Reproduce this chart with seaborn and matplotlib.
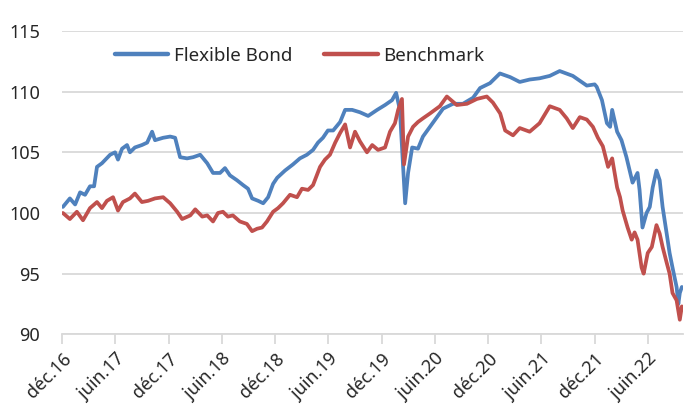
import matplotlib
matplotlib.use("Agg")
import matplotlib.pyplot as plt
import pandas as pd
import seaborn as sns

flex_dates = [
    "2016-12-03", "2016-12-27", "2017-01-14", "2017-01-31", "2017-02-17", "2017-03-06",
    "2017-03-20", "2017-03-30", "2017-04-16", "2017-05-14", "2017-05-31", "2017-06-10",
    "2017-06-24", "2017-07-11", "2017-07-21", "2017-08-07", "2017-08-31", "2017-09-18",
    "2017-10-05", "2017-10-15", "2017-11-12", "2017-12-06", "2017-12-23", "2018-01-09",
    "2018-02-02", "2018-02-23", "2018-03-19", "2018-04-12", "2018-05-02", "2018-05-26",
    "2018-06-12", "2018-06-29", "2018-07-23", "2018-08-13", "2018-08-30", "2018-09-13",
    "2018-10-04", "2018-10-21", "2018-11-07", "2018-11-24", "2018-12-08", "2019-01-04",
    "2019-01-31", "2019-02-24", "2019-03-20", "2019-04-10", "2019-04-27", "2019-05-14",
    "2019-05-31", "2019-06-18", "2019-07-12", "2019-07-29", "2019-08-22", "2019-09-18",
    "2019-10-16", "2019-11-16", "2019-12-13", "2020-01-06", "2020-01-20", "2020-02-02",
    "2020-02-20", "2020-03-01", "2020-03-15", "2020-04-04", "2020-04-21", "2020-05-15",
    "2020-06-08", "2020-06-29", "2020-08-02", "2020-09-05", "2020-10-10", "2020-11-03",
    "2020-12-07", "2021-01-10", "2021-02-14", "2021-03-19", "2021-04-22", "2021-05-26",
    "2021-06-30", "2021-08-03", "2021-09-17", "2021-11-04", "2021-12-01", "2021-12-08",
    "2021-12-26", "2022-01-12", "2022-01-23", "2022-01-30", "2022-02-16", "2022-03-03",
    "2022-03-20", "2022-03-31", "2022-04-10", "2022-04-27", "2022-05-04", "2022-05-14",
    "2022-05-28", "2022-06-08", "2022-06-18", "2022-07-01", "2022-07-12", "2022-07-22",
    "2022-08-05", "2022-08-15", "2022-08-25", "2022-09-08", "2022-09-14", "2022-09-19",
    "2022-09-26",
]
flex_values = [
    100.5, 101.2, 100.7, 101.7, 101.5, 102.2,
    102.2, 103.8, 104.1, 104.8, 105.0, 104.4,
    105.3, 105.6, 105.0, 105.4, 105.6, 105.8,
    106.7, 106.0, 106.2, 106.3, 106.2, 104.6,
    104.5, 104.6, 104.8, 104.1, 103.3, 103.3,
    103.7, 103.1, 102.7, 102.3, 102.0, 101.2,
    101.0, 100.8, 101.3, 102.4, 102.9, 103.5,
    104.0, 104.5, 104.8, 105.2, 105.8, 106.2,
    106.8, 106.8, 107.5, 108.5, 108.5, 108.3,
    108.0, 108.5, 108.9, 109.3, 109.9, 108.5,
    100.8, 103.3, 105.4, 105.3, 106.3, 107.1,
    107.9, 108.6, 109.0, 109.0, 109.5, 110.3,
    110.7, 111.5, 111.2, 110.8, 111.0, 111.1,
    111.3, 111.7, 111.3, 110.5, 110.6, 110.4,
    109.3, 107.4, 107.1, 108.5, 106.7, 106.0,
    104.6, 103.5, 102.5, 103.3, 101.9, 98.8,
    100.0, 100.5, 102.1, 103.5, 102.7, 100.5,
    98.3, 96.7, 95.5, 93.9, 92.5, 93.4,
    93.9,
]

bench_dates = [
    "2016-12-03", "2016-12-27", "2017-01-20", "2017-02-10", "2017-03-06", "2017-03-30",
    "2017-04-16", "2017-05-03", "2017-05-24", "2017-06-10", "2017-06-27", "2017-07-21",
    "2017-08-07", "2017-08-31", "2017-09-21", "2017-10-15", "2017-11-12", "2017-12-06",
    "2017-12-30", "2018-01-16", "2018-02-13", "2018-03-02", "2018-03-26", "2018-04-12",
    "2018-05-02", "2018-05-19", "2018-06-05", "2018-06-22", "2018-07-09", "2018-08-02",
    "2018-08-26", "2018-09-13", "2018-09-30", "2018-10-17", "2018-11-03", "2018-11-24",
    "2018-12-11", "2018-12-28", "2019-01-21", "2019-02-14", "2019-03-03", "2019-03-24",
    "2019-04-10", "2019-05-04", "2019-05-21", "2019-06-07", "2019-06-25", "2019-07-12",
    "2019-07-29", "2019-08-15", "2019-09-01", "2019-09-18", "2019-10-12", "2019-10-30",
    "2019-11-19", "2019-12-13", "2019-12-30", "2020-01-16", "2020-01-27", "2020-02-09",
    "2020-02-16", "2020-03-01", "2020-03-18", "2020-04-04", "2020-04-21", "2020-05-15",
    "2020-06-18", "2020-07-12", "2020-08-15", "2020-09-19", "2020-10-23", "2020-11-26",
    "2020-12-17", "2021-01-11", "2021-01-28", "2021-02-24", "2021-03-19", "2021-04-22",
    "2021-05-26", "2021-06-30", "2021-08-03", "2021-08-27", "2021-09-17", "2021-10-11",
    "2021-11-04", "2021-11-25", "2021-12-12", "2021-12-29", "2022-01-16", "2022-01-30",
    "2022-02-16", "2022-02-26", "2022-03-07", "2022-03-24", "2022-04-07", "2022-04-17",
    "2022-04-27", "2022-05-11", "2022-05-18", "2022-06-01", "2022-06-15", "2022-07-01",
    "2022-07-12", "2022-07-22", "2022-08-05", "2022-08-15", "2022-08-25", "2022-09-08",
    "2022-09-19", "2022-09-26",
]
bench_values = [
    100.0, 99.5, 100.1, 99.4, 100.4, 100.9,
    100.4, 101.0, 101.3, 100.2, 100.9, 101.2,
    101.6, 100.9, 101.0, 101.2, 101.3, 100.8,
    100.1, 99.5, 99.8, 100.3, 99.7, 99.8,
    99.3, 100.0, 100.1, 99.7, 99.8, 99.3,
    99.1, 98.5, 98.7, 98.8, 99.3, 100.1,
    100.4, 100.8, 101.5, 101.3, 102.0, 101.9,
    102.3, 103.8, 104.4, 104.8, 105.8, 106.6,
    107.3, 105.4, 106.7, 105.9, 105.0, 105.6,
    105.2, 105.4, 106.7, 107.4, 108.5, 109.4,
    104.0, 106.3, 107.1, 107.5, 107.8, 108.2,
    108.8, 109.6, 108.9, 109.0, 109.4, 109.6,
    109.1, 108.2, 106.8, 106.4, 107.0, 106.7,
    107.4, 108.8, 108.5, 107.8, 107.0, 107.9,
    107.7, 107.1, 106.2, 105.5, 103.8, 104.5,
    102.1, 101.3, 100.2, 98.8, 97.8, 98.4,
    97.8, 95.5, 95.0, 96.7, 97.2, 99.0,
    98.3, 97.2, 95.9, 95.0, 93.4, 92.8,
    91.2, 92.3,
]

series_names = ["Flexible Bond", "Benchmark"]
series_colors = ["#4f81bd", "#c0504d"]
y_ticks = [90, 95, 100, 105, 110, 115]
x_tick_dates = ["2016-12-01", "2017-06-01", "2017-12-01", "2018-06-01", "2018-12-01",
                "2019-06-01", "2019-12-01", "2020-06-01", "2020-12-01", "2021-06-01",
                "2021-12-01", "2022-06-01"]
x_tick_labels = ["déc.16", "juin.17", "déc.17", "juin.18", "déc.18", "juin.19",
                 "déc.19", "juin.20", "déc.20", "juin.21", "déc.21", "juin.22"]

df = pd.concat([
    pd.DataFrame({"date": pd.to_datetime(flex_dates), "value": flex_values, "series": series_names[0]}),
    pd.DataFrame({"date": pd.to_datetime(bench_dates), "value": bench_values, "series": series_names[1]}),
], ignore_index=True)

sns.set_theme(style="white")
plt.rcParams["font.family"] = ["Noto Sans", "DejaVu Sans"]

fig = plt.figure(figsize=(6.86, 4.08), dpi=100)
ax_l, ax_r, ax_t, ax_b = 62.3, 683.3, 31.0, 334.3
ax = fig.add_axes([ax_l / 686, 1 - ax_b / 408, (ax_r - ax_l) / 686, (ax_b - ax_t) / 408])

sns.lineplot(data=df, x="date", y="value", hue="series", hue_order=series_names,
             palette=series_colors, linewidth=2.7, ax=ax, legend=True)

ax.set_xlim(pd.Timestamp("2016-12-01"), pd.Timestamp("2022-10-01"))
ax.set_ylim(90, 115)
ax.set_yticks(y_ticks)
ax.set_yticklabels([str(v) for v in y_ticks])
ax.set_xticks(pd.to_datetime(x_tick_dates))
ax.set_xticklabels(x_tick_labels, rotation=45, ha="right", rotation_mode="anchor")
ax.set_xlabel("")
ax.set_ylabel("")

grid_col = "#d9d9d9"
ax.grid(axis="y", color=grid_col, linewidth=1.3)
ax.grid(axis="x", visible=False)
ax.set_axisbelow(True)
for s in ["top", "right", "left"]:
    ax.spines[s].set_visible(False)
ax.spines["bottom"].set_color(grid_col)
ax.spines["bottom"].set_linewidth(1.3)

ax.tick_params(axis="y", length=0, pad=16, labelsize=13, labelcolor="#262626")
ax.tick_params(axis="x", length=7, width=1.3, color=grid_col, direction="out",
               pad=4, labelsize=13, labelcolor="#262626", bottom=True)

leg = ax.legend(loc="center left",
                bbox_to_anchor=((115 - ax_l) / (ax_r - ax_l), (ax_b - 56) / (ax_b - ax_t)),
                ncol=2, frameon=False, fontsize=13.5, handlelength=2.85, handletextpad=0.3,
                columnspacing=1.7, borderpad=0, borderaxespad=0)
for t in leg.get_texts():
    t.set_color("#262626")
for l in leg.get_lines():
    l.set_linewidth(3.2)

fig.savefig("out.png", dpi=100)
